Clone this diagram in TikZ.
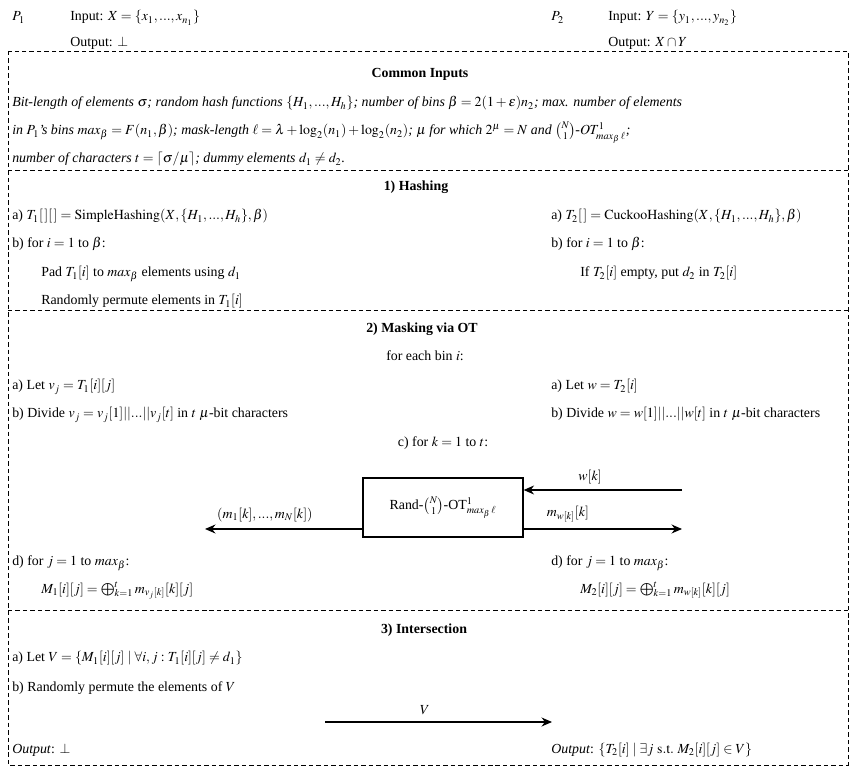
\documentclass[tikz,border=0pt]{standalone}
\usepackage{amsmath}
\usepackage{mathptmx}
\usepackage{fontspec}
\setmainfont{Liberation Serif}
\usetikzlibrary{arrows.meta,positioning}

\tikzset{
	txt/.style={anchor=base west, inner sep=0pt},
	ttl/.style={anchor=base, inner sep=0pt, font=\fontsize{9.3}{11}\selectfont\bfseries},
	mid/.style={anchor=base, inner sep=0pt},
	sepline/.style={densely dashed, line width=0.6pt},
	arr/.style={-{Stealth[length=7pt, width=6pt]}, line width=1pt},
	otbox/.style={draw, line width=0.8pt, minimum width=160*0.67pt, minimum height=59*0.67pt, inner sep=0pt}
}

\begin{document}
\begin{tikzpicture}[x=0.67pt, y=-0.67pt, font=\fontsize{9.3}{11}\selectfont]
	\useasboundingbox (0,0) rectangle (859,773);
	% parties
	\node[txt] (p1) at (12,21) {$P_1$};
	\node[txt] (in1) at (70,21) {Input: $X=\{x_1,...,x_{n_1}\}$};
	\node[txt] (out1) at (70,47) {Output: $\bot$};
	\node[txt] (p2) at (551,21) {$P_2$};
	\node[txt] (in2) at (608,21) {Input: $Y=\{y_1,...,y_{n_2}\}$};
	\node[txt] (out2) at (608,47) {Output: $X\cap Y$};
	% frame and separators
	\draw[sepline] (8,51) rectangle (848,765);
	\foreach \y in {170,310,610}
		\draw[sepline] (8,\y) -- (848,\y);
	% common inputs
	\node[ttl] (common) at (420,78) {Common Inputs};
	\node[txt] (ci1) at (12,107) {\itshape Bit-length of elements $\sigma$; random hash functions $\{H_1,...,H_h\}$; number of bins $\beta=2(1+\varepsilon)n_2$; max. number of elements};
	\node[txt] (ci2) at (12,135) {\itshape in $P_1$'s bins $max_\beta=F(n_1,\beta)$; mask-length $\ell=\lambda+\log_2(n_1)+\log_2(n_2)$; $\mu$ for which $2^\mu=N$ and $\binom{N}{1}$-$OT^1_{max_\beta\,\ell}$;};
	\node[txt] (ci3) at (12,163) {\itshape number of characters $t=\lceil\sigma/\mu\rceil$; dummy elements $d_1\neq d_2$.};
	% 1) hashing
	\node[ttl] (hash) at (416,191) {1) Hashing};
	\node[txt] (ha1) at (12,220) {a) $T_1[\,][\,]=\mathrm{SimpleHashing}(X,\{H_1,...,H_h\},\beta)$};
	\node[txt] (hb1) at (12,248) {b) for $i=1$ to $\beta$:};
	\node[txt] (hc1) at (41,277) {Pad $T_1[i]$ to $max_\beta$ elements using $d_1$};
	\node[txt] (hd1) at (41,305) {Randomly permute elements in $T_1[i]$};
	\node[txt] (ha2) at (551,220) {a) $T_2[\,]=\mathrm{CuckooHashing}(X,\{H_1,...,H_h\},\beta)$};
	\node[txt] (hb2) at (551,248) {b) for $i=1$ to $\beta$:};
	\node[txt] (hc2) at (580,277) {If $T_2[i]$ empty, put $d_2$ in $T_2[i]$};
	% 2) masking via OT
	\node[ttl] (mask) at (422,333) {2) Masking via OT};
	\node[mid] (bin) at (425,361) {for each bin $i$:};
	\node[txt] (ma1) at (12,390) {a) Let $v_j=T_1[i][j]$};
	\node[txt] (mb1) at (12,418) {b) Divide $v_j=v_j[1]||...||v_j[t]$ in $t$ $\mu$-bit characters};
	\node[txt] (ma2) at (551,390) {a) Let $w=T_2[i]$};
	\node[txt] (mb2) at (551,418) {b) Divide $w=w[1]||...||w[t]$ in $t$ $\mu$-bit characters};
	\node[mid] (loopk) at (443,447) {c) for $k=1$ to $t$:};
	\node[otbox] (ot) at (443,507.5) {Rand-$\binom{N}{1}$-OT$^1_{max_\beta\,\ell}$};
	\coordinate (win) at (682,490);
	\coordinate (mout) at (682,529);
	\coordinate (mall) at (205,529);
	\draw[arr] (win) -- (win -| ot.east) node[pos=0.58, above=0pt] {$w[k]$};
	\draw[arr] (ot.east |- mout) -- (mout) node[pos=0.28, above=1pt] {$m_{w[k]}[k]$};
	\draw[arr] (ot.west |- mall) -- (mall) node[pos=0.62, above=1pt] {$(m_1[k],...,m_N[k])$};
	\node[txt] (md1) at (12,566) {d) for $j=1$ to $max_\beta$:};
	\node[txt] (me1) at (41,593) {$M_1[i][j]=\bigoplus_{k=1}^{t}m_{v_j[k]}[k][j]$};
	\node[txt] (md2) at (551,566) {d) for $j=1$ to $max_\beta$:};
	\node[txt] (me2) at (580,593) {$M_2[i][j]=\bigoplus_{k=1}^{t}m_{w[k]}[k][j]$};
	% 3) intersection
	\node[ttl] (inter) at (424,634) {3) Intersection};
	\node[txt] (ia1) at (12,662) {a) Let $V=\{M_1[i][j]\mid\forall i,j:T_1[i][j]\neq d_1\}$};
	\node[txt] (ib1) at (12,691) {b) Randomly permute the elements of $V$};
	\coordinate (vfrom) at (325,722);
	\coordinate (vto) at (552,722);
	\draw[arr] (vfrom) -- (vto) node[pos=0.44, above=1pt] {$V$};
	\node[txt] (res1) at (12,753) {\textit{Output}: $\bot$};
	\node[txt] (res2) at (551,753) {\textit{Output}: $\{T_2[i]\mid\exists j\ \mathrm{s.t.}\ M_2[i][j]\in V\}$};
\end{tikzpicture}
\end{document}
